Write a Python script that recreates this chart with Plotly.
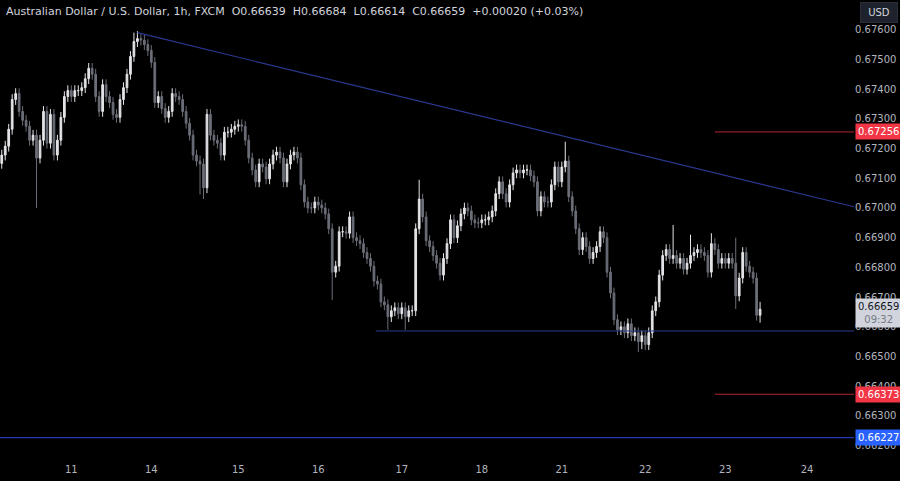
import plotly.graph_objects as go

# cierres horarios AUD/USD
cierres = [
    0.67178, 0.67208, 0.67265, 0.67365, 0.67385, 0.67325, 0.67295, 0.67275, 0.67228, 0.67245,
    0.67168, 0.67228, 0.67325, 0.67218, 0.67315, 0.67178, 0.67228, 0.67305, 0.67375, 0.67395,
    0.67375, 0.67395, 0.67395, 0.67405, 0.67435, 0.67470, 0.67450, 0.67375, 0.67325, 0.67415,
    0.67375, 0.67355, 0.67315, 0.67305, 0.67365, 0.67405, 0.67450, 0.67510, 0.67560, 0.67570,
    0.67565, 0.67550, 0.67530, 0.67490, 0.67355, 0.67375, 0.67335, 0.67305, 0.67325, 0.67385,
    0.67375, 0.67365, 0.67325, 0.67285, 0.67245, 0.67178, 0.67158, 0.67148, 0.67068, 0.67315,
    0.67245, 0.67228, 0.67218, 0.67178, 0.67255, 0.67255, 0.67265, 0.67275, 0.67280, 0.67275,
    0.67228, 0.67168, 0.67128, 0.67088, 0.67148, 0.67138, 0.67098, 0.67148, 0.67178, 0.67188,
    0.67168, 0.67088, 0.67148, 0.67178, 0.67188, 0.67168, 0.67078, 0.67020, 0.67000, 0.67000,
    0.67020, 0.67010, 0.67000, 0.66980, 0.66930, 0.66784, 0.66804, 0.66920, 0.66920, 0.66915,
    0.66970, 0.66900, 0.66890, 0.66880, 0.66850, 0.66830, 0.66804, 0.66754, 0.66744, 0.66684,
    0.66674, 0.66634, 0.66654, 0.66664, 0.66644, 0.66664, 0.66634, 0.66654, 0.66654, 0.66930,
    0.67030, 0.66970, 0.66890, 0.66870, 0.66840, 0.66814, 0.66774, 0.66830, 0.66880, 0.66960,
    0.66900, 0.66940, 0.66980, 0.67000, 0.66990, 0.66960, 0.66950, 0.66950, 0.66960, 0.66960,
    0.66970, 0.66990, 0.67048, 0.67088, 0.67048, 0.67020, 0.67078, 0.67118, 0.67128, 0.67118,
    0.67128, 0.67128, 0.67108, 0.67088, 0.66990, 0.67038, 0.67020, 0.67020, 0.67078, 0.67138,
    0.67088, 0.67138, 0.67158, 0.67038, 0.66990, 0.66930, 0.66860, 0.66900, 0.66870, 0.66830,
    0.66850, 0.66870, 0.66920, 0.66900, 0.66784, 0.66714, 0.66624, 0.66590, 0.66600, 0.66580,
    0.66610, 0.66570, 0.66580, 0.66550, 0.66570, 0.66540, 0.66580, 0.66654, 0.66684, 0.66774,
    0.66840, 0.66860, 0.66830, 0.66840, 0.66814, 0.66830, 0.66794, 0.66814, 0.66840, 0.66850,
    0.66860, 0.66850, 0.66840, 0.66784, 0.66880, 0.66860, 0.66814, 0.66830, 0.66814, 0.66830,
    0.66814, 0.66704, 0.66764, 0.66850, 0.66804, 0.66784, 0.66764, 0.66639, 0.66659,
]
apertura_inicial = 0.67150

# mechas destacadas (índice -> máximo / mínimo)
maximos_notables = {38: 0.67590, 39: 0.67595, 40: 0.67585, 120: 0.67095, 162: 0.67223,
                    193: 0.66943, 198: 0.66910, 204: 0.66915, 211: 0.66900, 218: 0.66684}
minimos_notables = {10: 0.67000, 57: 0.67045, 58: 0.67030, 95: 0.66690, 111: 0.66590,
                    116: 0.66590, 183: 0.66515, 184: 0.66525, 211: 0.66660, 218: 0.66614}
mecha = 0.00018

dias_pos = [20, 43, 68, 91, 115, 138, 161, 185, 208, 231.5]
dias_txt = ["11", "14", "15", "16", "17", "18", "21", "22", "23", "24"]

niveles_rojos = [0.67256, 0.66373]
nivel_azul = 0.66227
soporte = 0.66586
tendencia_x = [39, 245]
tendencia_y = [0.67590, 0.67004]

aperturas = [apertura_inicial] + cierres[:-1]
maximos = [maximos_notables.get(i, max(o, c) + mecha) for i, (o, c) in enumerate(zip(aperturas, cierres))]
minimos = [minimos_notables.get(i, min(o, c) - mecha) for i, (o, c) in enumerate(zip(aperturas, cierres))]

FUENTE = "DejaVu Sans"

fig = go.Figure(go.Candlestick(
    x=list(range(len(cierres))), open=aperturas, high=maximos, low=minimos, close=cierres,
    increasing=dict(line=dict(color="#e4e4e8", width=1), fillcolor="#e4e4e8"),
    decreasing=dict(line=dict(color="#6b6e78", width=1), fillcolor="#6b6e78"),
    whiskerwidth=0,
))

X_FIN = 245
fig.add_shape(type="line", x0=tendencia_x[0], x1=tendencia_x[1], y0=tendencia_y[0], y1=tendencia_y[1],
              line=dict(color="#2a3890", width=1.2))
fig.add_shape(type="line", x0=107.5, x1=X_FIN, y0=soporte, y1=soporte, line=dict(color="#2a3890", width=1.2))
for nivel in niveles_rojos:
    fig.add_shape(type="line", x0=205, x1=X_FIN, y0=nivel, y1=nivel, line=dict(color="#b3262f", width=1))
fig.add_shape(type="line", xref="paper", x0=0, x1=1, y0=nivel_azul, y1=nivel_azul,
              line=dict(color="#2236b8", width=1.2))

def etiqueta(y, texto, fondo, color="#ffffff"):
    fig.add_annotation(xref="paper", x=1, y=y, xanchor="left", text=texto, showarrow=False,
                       bgcolor=fondo, font=dict(color=color, size=10, family=FUENTE),
                       borderpad=2, xshift=1)

for nivel in niveles_rojos:
    etiqueta(nivel, f"{nivel:.5f}", "#f23645")
etiqueta(nivel_azul, f"{nivel_azul:.5f}", "#2962ff")
etiqueta(cierres[-1] - 0.00012, f"{cierres[-1]:.5f}<br><span style='color:#787b86'>09:32</span>", "#d1d4dc", "#131722")

fig.add_annotation(xref="paper", yref="paper", x=0.005, y=1, yanchor="top", xanchor="left", showarrow=False,
                   text="Australian Dollar / U.S. Dollar, 1h, FXCM  O0.66639  H0.66684  L0.66614  C0.66659  +0.00020 (+0.03%)",
                   font=dict(color="#d1d4dc", size=11, family=FUENTE), yshift=-3)
fig.add_annotation(xref="paper", yref="paper", x=1, y=1, yanchor="top", xanchor="left", showarrow=False,
                   text=" USD ", bgcolor="#1e222d", bordercolor="#2a2e39", borderpad=4,
                   font=dict(color="#d1d4dc", size=10, family=FUENTE), yshift=-2, xshift=6)

fig.update_layout(
    width=900, height=481, paper_bgcolor="#000000", plot_bgcolor="#000000",
    margin=dict(l=0, r=46, t=0, b=19), showlegend=False,
    xaxis=dict(range=[-0.5, X_FIN], rangeslider=dict(visible=False), showgrid=False, zeroline=False,
               tickvals=dias_pos, ticktext=dias_txt, tickfont=dict(color="#b2b5be", size=10, family=FUENTE),
               ticks="", fixedrange=True),
    yaxis=dict(side="right", range=[0.66145, 0.67700], showgrid=False, zeroline=False,
               dtick=0.001, tick0=0.662, tickformat=".5f",
               tickfont=dict(color="#b2b5be", size=10, family=FUENTE), ticks=""),
)

fig.write_html("out.html", config={"displayModeBar": False},
               post_script="document.body.style.margin='0';document.body.style.background='#000';")
